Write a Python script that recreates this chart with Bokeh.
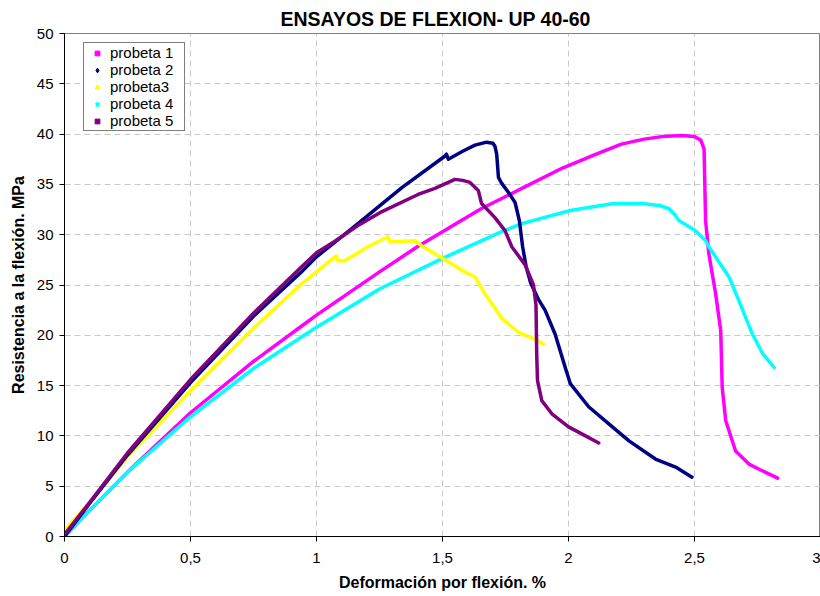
from bokeh.plotting import figure
from bokeh.models import FixedTicker, Legend, LegendItem, Range1d, Title
from bokeh.embed import file_html
from bokeh.resources import INLINE

title_text = "ENSAYOS DE FLEXION- UP 40-60"
x_label = "Deformación por flexión. %"
y_label = "Resistencia a la flexión. MPa"
x_ticks = [0, 0.5, 1, 1.5, 2, 2.5, 3]
x_tick_labels = ["0", "0,5", "1", "1,5", "2", "2,5", "3"]
y_ticks = [0, 5, 10, 15, 20, 25, 30, 35, 40, 45, 50]

series_names = ["probeta 1", "probeta 2", "probeta3", "probeta 4", "probeta 5"]
series_colors = ["#FF00FF", "#000080", "#FFFF00", "#00FFFF", "#800080"]
series_markers = ["square", "diamond", "triangle", "x", "square"]

# probeta 1
p1_x = [0, 0.1, 0.25, 0.5, 0.75, 0.94, 1.0, 1.25, 1.4, 1.655, 1.815, 1.974, 2.1, 2.21, 2.3,
        2.37, 2.45, 2.5, 2.525, 2.538, 2.544, 2.557, 2.584, 2.604, 2.61, 2.624, 2.663, 2.716,
        2.78, 2.83]
p1_y = [0, 2.6, 6.4, 12.3, 17.4, 20.9, 22.0, 26.3, 28.8, 32.6, 34.6, 36.6, 37.9, 39.0, 39.5,
        39.75, 39.85, 39.75, 39.4, 38.5, 31.4, 28.1, 24.1, 20.5, 14.8, 11.5, 8.5, 7.2,
        6.4, 5.8]

# probeta 2
p2_x = [0, 0.1, 0.25, 0.5, 0.75, 0.94, 1.0, 1.14, 1.34, 1.509, 1.516, 1.523, 1.58, 1.629,
        1.675, 1.7, 1.708, 1.715, 1.722, 1.735, 1.762, 1.788, 1.805, 1.818, 1.832, 1.85,
        1.88, 1.907, 1.947, 1.987, 2.007, 2.08, 2.16, 2.24, 2.345, 2.425, 2.49]
p2_y = [0, 3.3, 8.1, 15.3, 21.9, 26.3, 27.8, 30.6, 34.7, 37.8, 38.0, 37.5, 38.3, 38.9,
        39.2, 39.1, 38.8, 38.0, 35.7, 35.1, 34.2, 33.2, 31.4, 28.8, 26.8, 25.2,
        23.6, 22.5, 20.1, 16.8, 15.2, 12.9, 11.2, 9.5, 7.7, 6.9, 5.9]

# probeta3
p3_x = [0, 0.1, 0.25, 0.5, 0.75, 0.94, 1.0, 1.078, 1.085, 1.111, 1.204, 1.284, 1.291, 1.39,
        1.417, 1.496, 1.589, 1.629, 1.669, 1.735, 1.801, 1.86, 1.901]
p3_y = [0.6, 3.4, 7.9, 14.5, 20.7, 25.1, 26.3, 27.9, 27.4, 27.4, 28.8, 29.8, 29.3, 29.4,
        28.9, 27.7, 26.3, 25.8, 24.1, 21.7, 20.3, 19.7, 19.1]

# probeta 4
p4_x = [0, 0.1, 0.25, 0.5, 0.75, 1.0, 1.25, 1.496, 1.735, 1.815, 2.007, 2.173, 2.292, 2.36,
        2.398, 2.425, 2.438, 2.504, 2.544, 2.557, 2.637, 2.68, 2.73, 2.77, 2.816]
p4_y = [0, 2.6, 6.4, 11.9, 16.7, 20.8, 24.6, 27.6, 30.3, 31.1, 32.4, 33.07, 33.1, 32.9,
        32.6, 31.9, 31.4, 30.4, 29.4, 28.8, 25.8, 23.2, 20.1, 18.2, 16.8]

# probeta 5
p5_x = [0, 0.1, 0.25, 0.5, 0.75, 0.94, 1.0, 1.07, 1.17, 1.26, 1.403, 1.47, 1.523, 1.549,
        1.58, 1.609, 1.642, 1.655, 1.708, 1.748, 1.775, 1.828, 1.861, 1.871, 1.874, 1.877,
        1.894, 1.934, 2.0, 2.06, 2.12]
p5_y = [0.2, 3.4, 8.3, 15.6, 22.2, 26.8, 28.2, 29.3, 31.0, 32.3, 34.0, 34.6, 35.2, 35.5,
        35.4, 35.2, 34.4, 33.1, 31.7, 30.4, 28.8, 27.0, 25.0, 23.0, 18.0, 15.5,
        13.5, 12.2, 10.9, 10.1, 9.3]

series_x = [p1_x, p2_x, p3_x, p4_x, p5_x]
series_y = [p1_y, p2_y, p3_y, p4_y, p5_y]

FONT = "Liberation Sans"

p = figure(width=820, height=596, output_backend="svg", toolbar_location=None,
           x_range=Range1d(0, 3), y_range=Range1d(0, 50),
           min_border_left=64, min_border_right=0, min_border_top=33, min_border_bottom=60)

p.title = Title(text=title_text, align="left", offset=216, standoff=7,
                text_font=FONT, text_font_size="19.5px", text_font_style="bold",
                text_color="#000000")

p.background_fill_color = "#FFFFFF"
p.border_fill_color = "#FFFFFF"
p.outline_line_color = "#808080"
p.outline_line_width = 1

# grid
for g in (p.xgrid, p.ygrid):
    g.grid_line_color = "#C8C8C8"
    g.grid_line_dash = "6 4"
    g.grid_line_width = 1
p.xgrid.ticker = FixedTicker(ticks=x_ticks)
p.ygrid.ticker = FixedTicker(ticks=y_ticks)

# axes
p.xaxis.ticker = FixedTicker(ticks=x_ticks)
p.xaxis.major_label_overrides = {t: l for t, l in zip(x_ticks, x_tick_labels)}
p.yaxis.ticker = FixedTicker(ticks=y_ticks)
p.xaxis.axis_label = x_label
p.yaxis.axis_label = y_label
for ax in (p.xaxis, p.yaxis):
    ax.axis_line_color = "#000000"
    ax.axis_line_width = 1
    ax.major_tick_line_color = "#000000"
    ax.major_tick_in = 0
    ax.major_tick_out = 5
    ax.minor_tick_line_color = None
    ax.major_label_text_font = FONT
    ax.major_label_text_font_size = "15px"
    ax.major_label_text_color = "#000000"
    ax.axis_label_text_font = FONT
    ax.axis_label_text_font_size = "16px"
    ax.axis_label_text_font_style = "bold"
    ax.axis_label_text_color = "#000000"
p.xaxis.major_label_standoff = 11
p.xaxis.axis_label_standoff = 8
p.yaxis.major_label_standoff = 6
p.yaxis.axis_label_standoff = 7

# lines (drawing order)
order = [0, 3, 2, 1, 4]
for i in order:
    p.line(series_x[i], series_y[i], line_color=series_colors[i], line_width=3.5,
           line_join="round", line_cap="round")

# legend with marker-only entries (proxy renderers without visible points)
nan = float("nan")
items = []
for i in range(5):
    r = p.scatter(x=[nan], y=[nan], marker=series_markers[i], fill_color=series_colors[i],
                  line_color=series_colors[i], size=5,
                  line_width=2 if series_markers[i] == "x" else 1)
    items.append(LegendItem(label=series_names[i], renderers=[r]))

legend = Legend(items=items, location=(19, 405), orientation="vertical",
                border_line_color="#000000", border_line_width=1,
                background_fill_color="#FFFFFF", background_fill_alpha=1,
                padding=1, spacing=0, margin=0,
                glyph_width=24, glyph_height=12, label_height=17, label_width=73,
                label_standoff=1,
                label_text_font=FONT, label_text_font_size="15px",
                label_text_color="#000000", label_text_baseline="middle")
p.add_layout(legend, "center")

open("out.html", "w").write(file_html(p, INLINE))
